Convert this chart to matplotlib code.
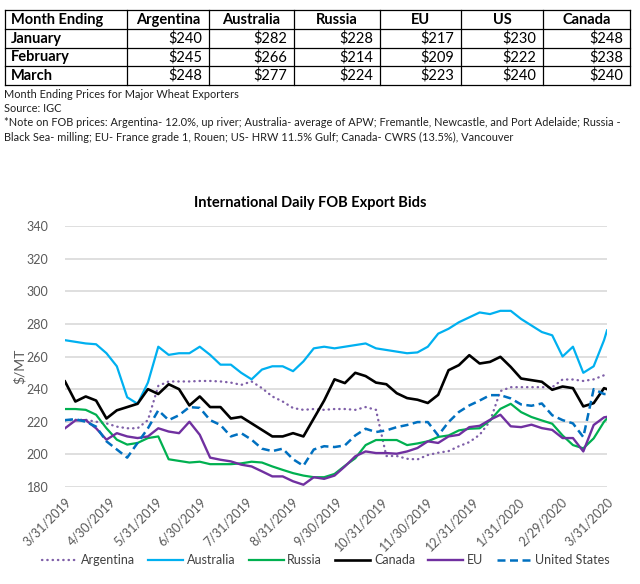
# Wheat FOB export bids: price table on top, weekly bid lines below
import matplotlib
matplotlib.use("Agg")
import matplotlib.pyplot as plt
import matplotlib.dates as mdates
import pandas as pd

plt.rcParams['font.family'] = ['Lato', 'DejaVu Sans']

# Table data
table_cols = ["Argentina", "Australia", "Russia", "EU", "US", "Canada"]
table_rows = ["January", "February", "March"]
table_vals = [
    [240, 282, 228, 217, 230, 248],
    [245, 266, 214, 209, 222, 238],
    [248, 277, 224, 223, 240, 240],
]
notes = [
    "Month Ending Prices for Major Wheat Exporters",
    "Source: IGC",
    "*Note on FOB prices: Argentina- 12.0%, up river; Australia- average of APW; Fremantle, Newcastle, and Port Adelaide; Russia -",
    "Black Sea- milling; EU- France grade 1, Rouen; US- HRW 11.5% Gulf; Canada- CWRS (13.5%), Vancouver",
]

# Weekly readings from 3/31/2019, last point 3/31/2020
dates = list(pd.date_range("2019-03-31", periods=53, freq="7D")) + [pd.Timestamp("2020-03-31")]

argentina = [220.8, 221.2, 221.2, 220, 219, 217, 216, 216, 221, 242,
             244.7, 244.7, 244.7, 245, 245, 244.7, 244, 242.6, 244.7, 240.6,
             235.5, 232.4, 228.4, 227.3, 227.8, 227.3, 227.8, 227.8, 227.3, 229,
             227.3, 199, 199, 197.3, 196.9, 199.6, 201, 202, 205, 207.5,
             212, 220.3, 238.8, 241.2, 241.2, 241.2, 241.2, 241.2, 245.9, 245.9,
             245, 246, 248.5, 248]
australia = [270, 269, 268, 267.5, 262, 254, 235, 231, 244, 266,
             261, 262, 262, 266, 261, 255, 255, 250, 246, 252,
             254, 254, 251, 257, 265, 266, 265, 266, 267, 268,
             265, 264, 263, 262, 262.5, 266, 274, 277, 281, 284,
             287, 286, 288, 288, 283, 279, 275, 273, 260, 266,
             250, 254, 270, 276]
russia = [227.8, 227.8, 227.3, 224.3, 216, 209, 206, 207, 210, 211,
          197, 196, 195, 195.5, 194, 194, 194, 194.5, 195.5, 195,
          192.6, 190.5, 188.5, 187, 186, 186, 188, 193, 197.6, 205.7,
          208.8, 208.8, 208.8, 205.7, 206.7, 208, 210.7, 211.6, 214.7, 215.7,
          216, 220.8, 227.9, 231, 225.9, 222.9, 220.8, 218.8, 211.6, 205.7,
          203.7, 209.8, 220, 222]
canada = [244.7, 232.4, 235.5, 233, 222, 227, 229, 231, 240, 237,
          243, 240, 230, 235.5, 229, 229, 222, 223, 219, 215,
          211, 211, 213, 211, 222, 233, 246, 243.7, 250, 248,
          244, 243, 237.5, 234.5, 233.5, 231.5, 236.5, 251.6, 254.7, 260.8,
          255.7, 256.7, 259.8, 253.6, 246.5, 245.5, 244.5, 239.6, 241.6, 240.6,
          229.4, 231.4, 240.6, 240]
eu = [216, 220.8, 221, 216, 209, 213, 211, 210, 211, 216,
      214, 213, 220, 212, 198, 196.7, 195.7, 193.7, 192.6, 189.6,
      186.5, 186.5, 183.5, 181.4, 186, 185, 187, 192.6, 198.8, 201.8,
      200.8, 200.8, 200.4, 201.8, 203.9, 208, 207, 211, 212, 216.7,
      217.5, 221.2, 224.3, 217.2, 216.7, 218.2, 216.1, 215, 210, 210,
      201.8, 218, 222.7, 223]
us = [221, 221.6, 220, 217, 208, 203, 198, 207, 216, 227,
      221, 224, 229, 228.5, 221, 218, 211, 213, 209, 203.5,
      202, 203.5, 197, 193, 203, 205, 204.5, 205.5, 211.6, 215.7,
      213.7, 214.7, 216.7, 218, 219.8, 219.8, 211.6, 219.8, 226, 230,
      233, 236.3, 236.3, 234.3, 230.6, 229.8, 231.2, 224, 221, 219,
      210.6, 240, 237, 237]

tick_dates = ["2019-03-31", "2019-04-30", "2019-05-31", "2019-06-30", "2019-07-31",
              "2019-08-31", "2019-09-30", "2019-10-31", "2019-11-30", "2019-12-31",
              "2020-01-31", "2020-02-29", "2020-03-31"]
y_ticks = [180, 200, 220, 240, 260, 280, 300, 320, 340]

W, H = 640, 584
fig = plt.figure(figsize=(W / 100, H / 100), dpi=100)

# Overlay in pixel coordinates for the table and notes
ov = fig.add_axes([0, 0, 1, 1])
ov.set_xlim(0, W)
ov.set_ylim(H, 0)
ov.axis('off')

col_edges = [5, 127, 209, 294, 380, 461, 543, 630]
row_edges = [10, 29.3, 47.7, 66.3, 85]
for y in row_edges:
    ov.plot([col_edges[0], col_edges[-1]], [y, y], color='black', lw=0.9)
for x in col_edges:
    ov.plot([x, x], [row_edges[0], row_edges[-1]], color='black', lw=0.9)

fs_tab = 10.5
ov.text(col_edges[0] + 6, (row_edges[0] + row_edges[1]) / 2, "Month Ending",
        fontsize=fs_tab, fontweight='bold', va='center', ha='left')
for j, name in enumerate(table_cols):
    ov.text((col_edges[j + 1] + col_edges[j + 2]) / 2, (row_edges[0] + row_edges[1]) / 2, name,
            fontsize=fs_tab, fontweight='bold', va='center', ha='center')
for i, month in enumerate(table_rows):
    yc = (row_edges[i + 1] + row_edges[i + 2]) / 2
    ov.text(col_edges[0] + 6, yc, month, fontsize=fs_tab, fontweight='bold', va='center', ha='left')
    for j, v in enumerate(table_vals[i]):
        ov.text(col_edges[j + 2] - 7, yc, f"${v}", fontsize=fs_tab, va='center', ha='right')

for y, line in zip([94, 108, 123, 137], notes):
    ov.text(4, y, line, fontsize=7.95, va='center', ha='left', color='#202020')

# Chart
ax = fig.add_axes([65 / W, 1 - 487 / H, (607 - 65) / W, (487 - 226) / H])
styles = [
    ("Argentina", argentina, dict(color='#7F5FA8', lw=1.7, linestyle=(0, (0.15, 2.1)), dash_capstyle='round')),
    ("Australia", australia, dict(color='#00B0F0', lw=1.6)),
    ("Russia", russia, dict(color='#00B050', lw=1.6)),
    ("Canada", canada, dict(color='black', lw=1.9)),
    ("EU", eu, dict(color='#7030A0', lw=1.7)),
    ("United States", us, dict(color='#0070C0', lw=1.8, linestyle=(0, (3.2, 1.8)))),
]
for label, vals, kw in styles:
    ax.plot(dates, vals, label=label, **kw)

ax.set_ylim(180, 340)
ax.set_xlim(pd.Timestamp(tick_dates[0]), pd.Timestamp(tick_dates[-1]))
ax.set_yticks(y_ticks)
ax.set_xticks([pd.Timestamp(d) for d in tick_dates])
ax.xaxis.set_major_formatter(mdates.DateFormatter('%-m/%-d/%Y'))
ax.grid(axis='y', color='#d9d9d9', lw=1.2)
ax.set_axisbelow(True)
for s in ax.spines.values():
    s.set_visible(False)
ax.tick_params(axis='both', length=0, colors='#595959', labelsize=9)
ax.tick_params(axis='y', pad=12)
ax.tick_params(axis='x', pad=6)
for lab in ax.get_xticklabels():
    lab.set_rotation(45)
    lab.set_ha('right')
    lab.set_va('top')
    lab.set_rotation_mode('anchor')

fig.text(310 / W, 1 - 203 / H, "International Daily FOB Export Bids",
         fontsize=10.5, fontweight='bold', ha='center', va='center', color='black')
fig.text(20 / W, 1 - 366 / H, "$/MT", fontsize=10, rotation=90,
         ha='center', va='center', color='#595959')

fig.legend(loc='center', bbox_to_anchor=(326 / W, 1 - 560 / H), ncol=6, frameon=False,
           fontsize=9, handlelength=2.8, columnspacing=1.05, handletextpad=0.3,
           labelcolor='#404040')

fig.savefig("out.png", dpi=100)
